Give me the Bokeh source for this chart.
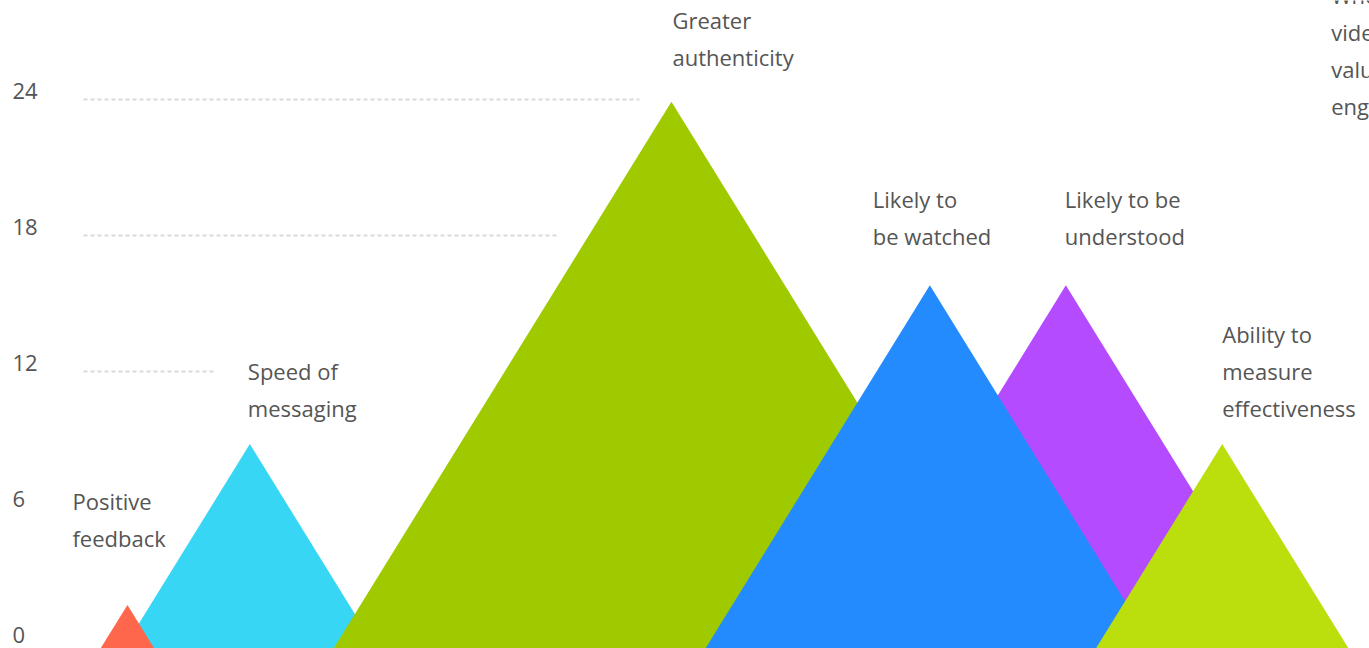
from bokeh.plotting import figure
from bokeh.models import Range1d, ColumnDataSource
from bokeh.embed import file_html
from bokeh.resources import INLINE
from bokeh.core.properties import value

# ---- data ----
categories = [
    "Positive\nfeedback",
    "Speed of\nmessaging",
    "Greater\nauthenticity",
    "Likely to\nbe watched",
    "Likely to be\nunderstood",
    "Ability to\nmeasure\neffectiveness",
    "Whether\nvideo adds\nvalue to\nengagement",
]
positions = [5.6, 11.0, 29.6, 41.0, 47.0, 53.9, 76.0]
values = [1.7, 8.8, 23.9, 15.8, 15.8, 8.8, 21.7]
tick_values = [0, 6, 12, 18, 24]

# ---- style ----
colors = ["#FF674D", "#38D6F5", "#9FCA00", "#248BFF", "#B54BFF", "#BADF0D", "#FFA200"]
z_order = [1, 0, 2, 4, 3, 5, 6]
label_dx = [-55, -2, 1, -57, -1, 0, -392]      # px, label left relative to apex
label_gap = [67, 36, 45, 49, 49, 36, 46]       # px, apex to last line centre
line_step = 37
ppu = 136 / 6.0                                # px per unit (both axes)
slope = 0.618
W, H = 1369, 648
zero_px = 643
font = value("Open Sans")
text_color = "#555555"

x_end = W / ppu
y_bottom = -(H - zero_px) / ppu
y_top = zero_px / ppu
base = y_bottom - 1

p = figure(width=W, height=H, x_range=Range1d(0, x_end), y_range=Range1d(y_bottom, y_top),
           x_axis_type=None, y_axis_type=None, toolbar_location=None,
           output_backend="svg", min_border=0, outline_line_color=None,
           background_fill_color="white", border_fill_color="white")

# ---- gridlines (end before first obstacle) ----
grid_start = 83 / ppu
gap = 32 / ppu
g_x0, g_x1, g_y = [], [], []
for t in tick_values:
    cands = []
    for xa, v in zip(positions, values):
        if v > t - 0.2:
            cands.append(xa - slope * max(v - t, 0))
    for i, lab in enumerate(categories):
        lines = lab.split("\n")
        n = len(lines)
        apex_px = zero_px - values[i] * ppu
        for j in range(n):
            cy = apex_px - label_gap[i] - (n - 1 - j) * line_step
            ty = zero_px - t * ppu
            if abs(cy - ty) < 14:
                cands.append(positions[i] + label_dx[i] / ppu)
    end = min(cands) - gap if cands else x_end
    if end > grid_start:
        g_x0.append(grid_start)
        g_x1.append(end)
        g_y.append(t)
p.segment(x0=g_x0, y0=g_y, x1=g_x1, y1=g_y, line_color="#d9d9d9", line_width=2, line_dash="4 3")

# ---- triangles ----
for i in z_order:
    xa, v = positions[i], values[i]
    hw = slope * (v - base)
    p.patch(x=[xa - hw, xa, xa + hw], y=[base, v, base], fill_color=colors[i], line_color=None)

# ---- labels ----
lx, ly, lt, lxo, lyo = [], [], [], [], []
for i, lab in enumerate(categories):
    lines = lab.split("\n")
    n = len(lines)
    for j, s in enumerate(lines):
        lx.append(positions[i])
        ly.append(values[i])
        lt.append(s)
        lxo.append(label_dx[i])
        lyo.append(-(label_gap[i] + (n - 1 - j) * line_step))
src = ColumnDataSource(dict(x=lx, y=ly, text=lt, xo=lxo, yo=lyo))
p.text(x="x", y="y", text="text", x_offset="xo", y_offset="yo", source=src,
       text_font=font, text_font_size="22px", text_color=text_color,
       text_align="left", text_baseline="middle")

# ---- tick labels ----
p.text(x=[0] * len(tick_values), y=tick_values, text=[str(t) for t in tick_values],
       x_offset=12, y_offset=-9, text_font=font, text_font_size="22px",
       text_color=text_color, text_align="left", text_baseline="middle")

open("out.html", "w").write(file_html(p, INLINE))
